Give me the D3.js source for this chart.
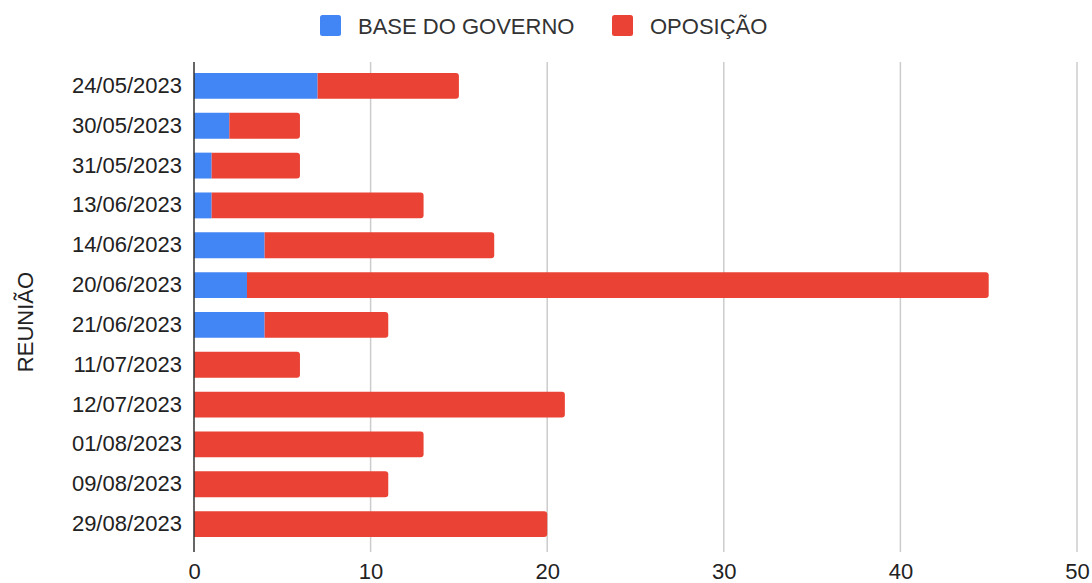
<!DOCTYPE html>
<html><head><meta charset="utf-8">
<script src="https://cdn.jsdelivr.net/npm/d3@7"></script>
<style>body{margin:0;background:#fff;}svg{display:block;font-family:"Liberation Sans",Arial,sans-serif;}</style>
</head><body>
<svg id="c" width="1092" height="583"></svg>
<script>
const categories = ["24/05/2023","30/05/2023","31/05/2023","13/06/2023","14/06/2023","20/06/2023","21/06/2023","11/07/2023","12/07/2023","01/08/2023","09/08/2023","29/08/2023"];
const baseGoverno = [7,2,1,1,4,3,4,0,0,0,0,0];
const oposicao = [8,4,5,12,13,42,7,6,21,13,11,20];
const seriesNames = ["BASE DO GOVERNO","OPOSIÇÃO"];
const colors = ["#4285F4","#EA4335"];
const xTicks = [0,10,20,30,40,50];

const FONT = '"Liberation Sans",Arial,sans-serif';
const svg = d3.select("#c");
const x = d3.scaleLinear().domain([0,50]).range([194,1077]);
const y = d3.scaleBand().domain(categories).range([66,544]).paddingInner(0.35).paddingOuter(0.175);

// gridlines
svg.append("g").selectAll("line").data(xTicks.filter(d=>d>0)).join("line")
  .attr("x1",d=>x(d)).attr("x2",d=>x(d)).attr("y1",62).attr("y2",552)
  .attr("stroke","#cccccc").attr("stroke-width",1.5);

// x tick labels via axis
const xAxis = svg.append("g").attr("transform","translate(0,550)")
  .call(d3.axisBottom(x).tickValues(xTicks).tickSize(0).tickPadding(13));
xAxis.select(".domain").remove();
xAxis.selectAll("text").attr("font-size",22).attr("fill","#222").attr("font-family",FONT);

// stacked bars
const stackData = categories.map((c,i)=>({cat:c, base:baseGoverno[i], opo:oposicao[i]}));
const stacked = d3.stack().keys(["base","opo"])(stackData);
const r = 3;
stacked.forEach((layer,li)=>{
  svg.append("g").selectAll("path").data(layer).join("path")
    .attr("fill",colors[li])
    .attr("d",d=>{
      const x0=x(d[0]), x1=x(d[1]), y0=y(d.data.cat), h=y.bandwidth();
      if (x1-x0<=0) return "";
      const isEnd = (li===1) || (d.data.opo===0);
      if (!isEnd) return `M${x0},${y0}H${x1}V${y0+h}H${x0}Z`;
      const rr=Math.min(r,(x1-x0));
      return `M${x0},${y0}H${x1-rr}Q${x1},${y0} ${x1},${y0+rr}V${y0+h-rr}Q${x1},${y0+h} ${x1-rr},${y0+h}H${x0}Z`;
    });
});

// y axis
const yAxis = svg.append("g").attr("transform","translate(194,0)")
  .call(d3.axisLeft(y).tickSize(0).tickPadding(12));
yAxis.select(".domain").remove();
yAxis.selectAll("text").attr("font-size",22).attr("fill","#222").attr("font-family",FONT);
svg.append("line").attr("x1",194).attr("x2",194).attr("y1",62).attr("y2",552)
  .attr("stroke","#333").attr("stroke-width",1.5);

// axis title
svg.append("text").attr("transform","translate(33,322) rotate(-90)")
  .attr("text-anchor","middle").attr("font-size",22).attr("fill","#222").text("REUNIÃO");

// legend
const legendX = [320,612];
seriesNames.forEach((n,i)=>{
  svg.append("rect").attr("x",legendX[i]).attr("y",15).attr("width",21).attr("height",21).attr("rx",2.5).attr("fill",colors[i]);
  svg.append("text").attr("x",legendX[i]+38).attr("y",33.5).attr("font-size",22).attr("fill","#333").text(n);
});
</script>
</body></html>
